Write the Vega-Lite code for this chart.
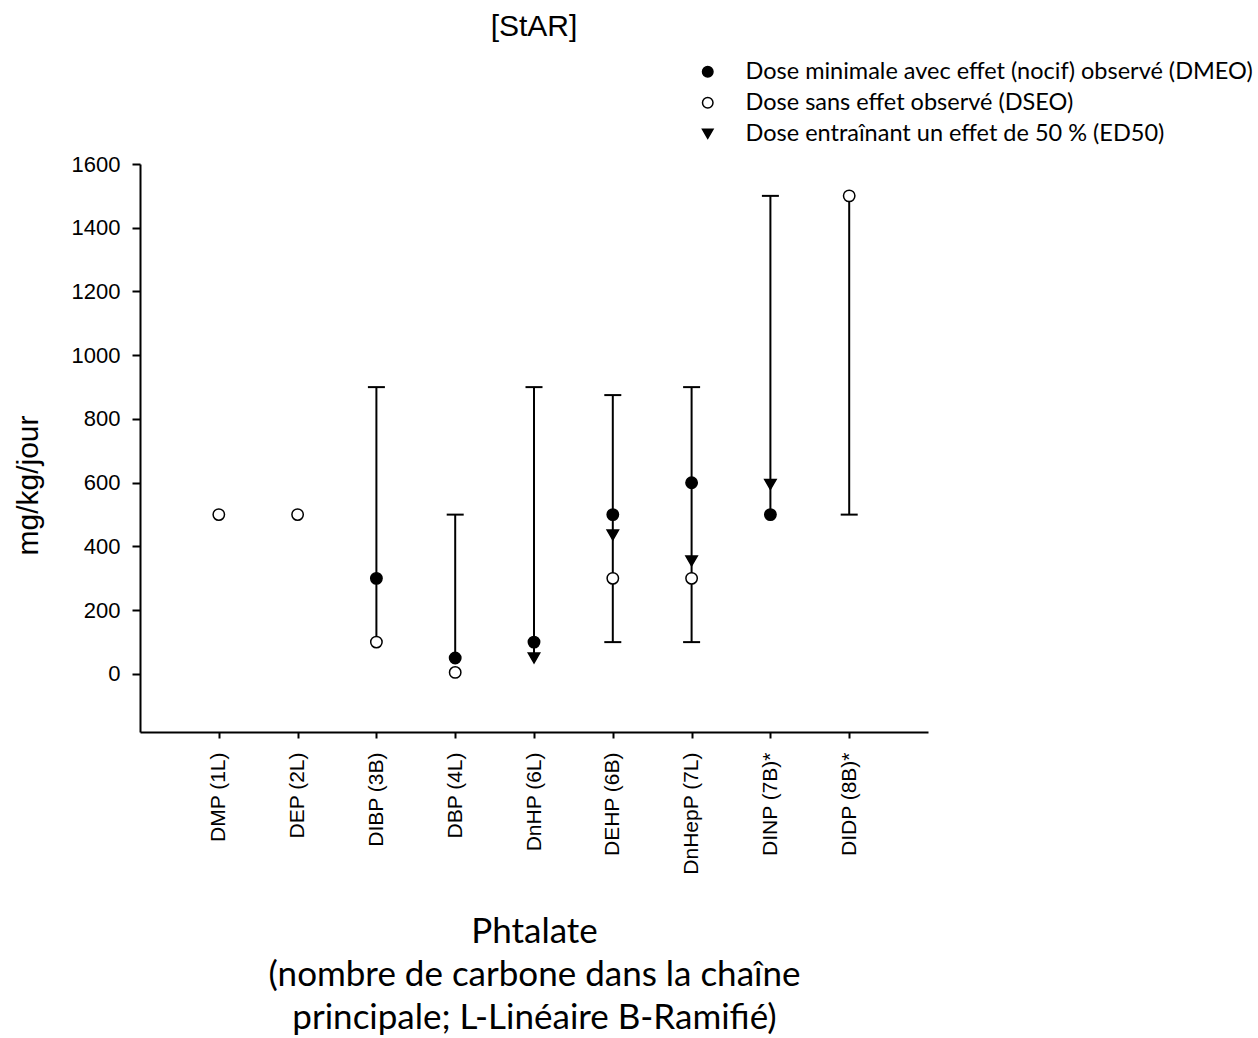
{
  "$schema": "https://vega.github.io/schema/vega-lite/v6.json",
  "autosize": {"type": "none"},
  "width": 788,
  "height": 568,
  "padding": {"left": 140, "top": 164, "right": 330, "bottom": 306},
  "background": "white",
  "title": {"text": "[StAR]", "font": "Liberation Sans", "fontSize": 30, "fontWeight": "normal", "color": "black", "anchor": "middle", "frame": "group", "offset": 18},
  "datasets": {
    "ranges": [
      {"phtalate": "DIBP (3B)", "low": 100, "high": 900},
      {"phtalate": "DBP (4L)", "low": 50, "high": 500},
      {"phtalate": "DnHP (6L)", "low": 50, "high": 900},
      {"phtalate": "DEHP (6B)", "low": 100, "high": 875},
      {"phtalate": "DnHepP (7L)", "low": 100, "high": 900},
      {"phtalate": "DINP (7B)*", "low": 500, "high": 1500},
      {"phtalate": "DIDP (8B)*", "low": 500, "high": 1500}
    ],
    "caps": [
      {"phtalate": "DIBP (3B)", "value": 900},
      {"phtalate": "DBP (4L)", "value": 500},
      {"phtalate": "DnHP (6L)", "value": 900},
      {"phtalate": "DEHP (6B)", "value": 875},
      {"phtalate": "DEHP (6B)", "value": 100},
      {"phtalate": "DnHepP (7L)", "value": 900},
      {"phtalate": "DnHepP (7L)", "value": 100},
      {"phtalate": "DINP (7B)*", "value": 1500},
      {"phtalate": "DIDP (8B)*", "value": 500}
    ],
    "points": [
      {"phtalate": "DMP (1L)", "type": "Dose sans effet observé (DSEO)", "value": 500},
      {"phtalate": "DEP (2L)", "type": "Dose sans effet observé (DSEO)", "value": 500},
      {"phtalate": "DIBP (3B)", "type": "Dose minimale avec effet (nocif) observé (DMEO)", "value": 300},
      {"phtalate": "DIBP (3B)", "type": "Dose sans effet observé (DSEO)", "value": 100},
      {"phtalate": "DBP (4L)", "type": "Dose minimale avec effet (nocif) observé (DMEO)", "value": 50},
      {"phtalate": "DBP (4L)", "type": "Dose sans effet observé (DSEO)", "value": 5},
      {"phtalate": "DnHP (6L)", "type": "Dose minimale avec effet (nocif) observé (DMEO)", "value": 100},
      {"phtalate": "DnHP (6L)", "type": "Dose entraînant un effet de 50 % (ED50)", "value": 50},
      {"phtalate": "DEHP (6B)", "type": "Dose minimale avec effet (nocif) observé (DMEO)", "value": 500},
      {"phtalate": "DEHP (6B)", "type": "Dose entraînant un effet de 50 % (ED50)", "value": 436},
      {"phtalate": "DEHP (6B)", "type": "Dose sans effet observé (DSEO)", "value": 300},
      {"phtalate": "DnHepP (7L)", "type": "Dose minimale avec effet (nocif) observé (DMEO)", "value": 600},
      {"phtalate": "DnHepP (7L)", "type": "Dose entraînant un effet de 50 % (ED50)", "value": 355},
      {"phtalate": "DnHepP (7L)", "type": "Dose sans effet observé (DSEO)", "value": 300},
      {"phtalate": "DINP (7B)*", "type": "Dose entraînant un effet de 50 % (ED50)", "value": 595},
      {"phtalate": "DINP (7B)*", "type": "Dose minimale avec effet (nocif) observé (DMEO)", "value": 500},
      {"phtalate": "DIDP (8B)*", "type": "Dose sans effet observé (DSEO)", "value": 1500}
    ]
  },
  "encoding": {
    "x": {
      "field": "phtalate",
      "type": "nominal",
      "sort": null,
      "scale": {"type": "point", "padding": 1, "domain": ["DMP (1L)", "DEP (2L)", "DIBP (3B)", "DBP (4L)", "DnHP (6L)", "DEHP (6B)", "DnHepP (7L)", "DINP (7B)*", "DIDP (8B)*"]},
      "axis": {
        "title": ["Phtalate", "(nombre de carbone dans la chaîne", "principale; L-Linéaire B-Ramifié)"],
        "titleFont": "Lato",
        "titleFontSize": 35,
        "titleFontWeight": "normal",
        "titleLineHeight": 43,
        "titlePadding": 40,
        "titleColor": "black",
        "labelAngle": -90,
        "labelAlign": "right",
        "labelBaseline": "middle",
        "labelFont": "Liberation Sans",
        "labelFontSize": 21,
        "labelColor": "black",
        "labelPadding": 14,
        "tickSize": 6,
        "labelOverlap": false
      }
    },
    "y": {
      "field": "value",
      "type": "quantitative",
      "scale": {"domain": [-182, 1600], "nice": false, "zero": false},
      "axis": {
        "title": "mg/kg/jour",
        "titleFont": "Liberation Sans",
        "titleFontSize": 30,
        "titleFontWeight": "normal",
        "titleColor": "black",
        "titlePadding": 28,
        "titleY": 321,
        "values": [0, 200, 400, 600, 800, 1000, 1200, 1400, 1600],
        "format": "d",
        "labelFont": "Liberation Sans",
        "labelFontSize": 22,
        "labelColor": "black",
        "labelPadding": 12,
        "tickSize": 8
      }
    }
  },
  "layer": [
    {
      "data": {"name": "ranges"},
      "mark": {"type": "rule", "color": "black", "strokeWidth": 2},
      "encoding": {
        "y": {"field": "low", "type": "quantitative"},
        "y2": {"field": "high"}
      }
    },
    {
      "data": {"name": "caps"},
      "mark": {"type": "tick", "color": "black", "thickness": 2, "size": 17, "opacity": 1},
      "encoding": {}
    },
    {
      "data": {"name": "points"},
      "mark": {"type": "point", "filled": true, "strokeWidth": 1.5, "opacity": 1, "size": 130},
      "encoding": {
        "shape": {
          "field": "type",
          "type": "nominal",
          "scale": {"domain": ["Dose minimale avec effet (nocif) observé (DMEO)", "Dose sans effet observé (DSEO)", "Dose entraînant un effet de 50 % (ED50)"], "range": ["circle", "circle", "triangle-down"]},
          "legend": {
            "title": null,
            "orient": "none",
            "legendX": 556,
            "legendY": -104,
            "padding": 0,
            "labelFont": "Lato",
            "labelFontSize": 23.5,
            "labelColor": "black",
            "labelOffset": 26,
            "labelLimit": 600,
            "symbolSize": 110,
            "symbolStrokeWidth": 1.5,
            "rowPadding": 6
          }
        },
        "fill": {
          "field": "type",
          "type": "nominal",
          "scale": {"domain": ["Dose minimale avec effet (nocif) observé (DMEO)", "Dose sans effet observé (DSEO)", "Dose entraînant un effet de 50 % (ED50)"], "range": ["black", "white", "black"]},
          "legend": {
            "title": null,
            "orient": "none",
            "legendX": 556,
            "legendY": -104,
            "padding": 0,
            "labelFont": "Lato",
            "labelFontSize": 23.5,
            "labelColor": "black",
            "labelOffset": 26,
            "labelLimit": 600,
            "symbolSize": 110,
            "symbolStrokeWidth": 1.5,
            "rowPadding": 6
          }
        },
        "stroke": {
          "field": "type",
          "type": "nominal",
          "scale": {"domain": ["Dose minimale avec effet (nocif) observé (DMEO)", "Dose sans effet observé (DSEO)", "Dose entraînant un effet de 50 % (ED50)"], "range": ["black", "black", "black"]},
          "legend": {
            "title": null,
            "orient": "none",
            "legendX": 556,
            "legendY": -104,
            "padding": 0,
            "labelFont": "Lato",
            "labelFontSize": 23.5,
            "labelColor": "black",
            "labelOffset": 26,
            "labelLimit": 600,
            "symbolSize": 110,
            "symbolStrokeWidth": 1.5,
            "rowPadding": 6
          }
        }
      }
    }
  ],
  "config": {
    "view": {"stroke": null},
    "axis": {"grid": false, "domainColor": "black", "tickColor": "black", "domainWidth": 2, "tickWidth": 2}
  }
}
